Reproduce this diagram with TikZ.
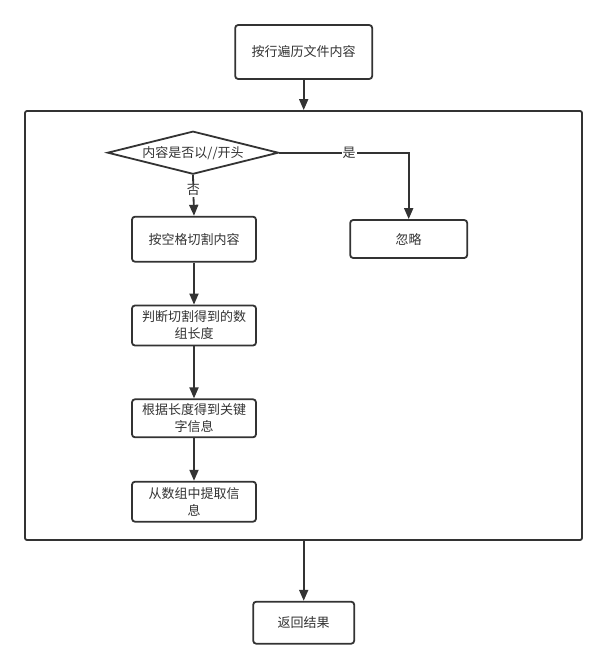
\documentclass[tikz,border=0pt]{standalone}
\usepackage{fontspec}
\setmainfont{Noto Sans CJK SC}
\usepackage{tikz}
\usetikzlibrary{positioning,arrows.meta,shapes.geometric}
\definecolor{flowLine}{HTML}{333333}
\definecolor{flowText}{HTML}{333333}

\begin{document}
\begin{tikzpicture}[
  x=1pt, y=-1pt,
  every node/.style={font=\fontsize{13}{17}\selectfont, text=flowText},
  stepbox/.style={draw=flowLine, line width=1.8pt, rounded corners=3pt,
    fill=white, align=center, inner sep=0pt},
  decbox/.style={draw=flowLine, line width=1.8pt, diamond, aspect=4,
    fill=white, inner sep=0pt, minimum width=171pt, minimum height=43pt},
  arr/.style={draw=flowLine, line width=1.8pt,
    -{Triangle[length=11pt,width=9pt]}},
  edgelbl/.style={fill=white, inner sep=1pt},
]

% --- Canvas ---
\useasboundingbox (0,0) rectangle (608,669);

% --- Outer loop frame ---
\node[draw=flowLine, line width=1.8pt, rounded corners=2pt,
  minimum width=557pt, minimum height=429pt, inner sep=0pt]
  (loop) at (303.5,325.5) {};

% --- Nodes ---
\node[stepbox, minimum width=137pt, minimum height=54pt] (scan) at (303.7,52) {按行遍历文件内容};
\node[decbox] (check) at (193,152.7) {内容是否以//开头};
\node[stepbox, minimum width=117pt, minimum height=38pt] (skip) at (408.7,239) {忽略};
\node[stepbox, minimum width=124pt, minimum height=45pt] (split) at (194,239.2) {按空格切割内容};
\node[stepbox, minimum width=124pt, minimum height=40pt] (len) at (194,325.5) {判断切割得到的数\\组长度};
\node[stepbox, minimum width=124pt, minimum height=38pt] (key) at (194,418.3) {根据长度得到关键\\字信息};
\node[stepbox, minimum width=124pt, minimum height=40pt] (info) at (194,501.7) {从数组中提取信\\息};
\node[stepbox, minimum width=101pt, minimum height=42pt] (ret) at (303.7,622.7) {返回结果};

% --- Connectors ---
\draw[arr] (scan) -- (scan |- loop.north);
\draw[arr] (check.east) -| node[edgelbl, pos=0.27] {是} (skip.north);
\draw[arr] (check.south) -- node[edgelbl, pos=0.37] {否} (split.north);
\draw[arr] (split) -- (len);
\draw[arr] (len) -- (key);
\draw[arr] (key) -- (info);
\draw[arr] (ret |- loop.south) -- (ret);

\end{tikzpicture}
\end{document}
